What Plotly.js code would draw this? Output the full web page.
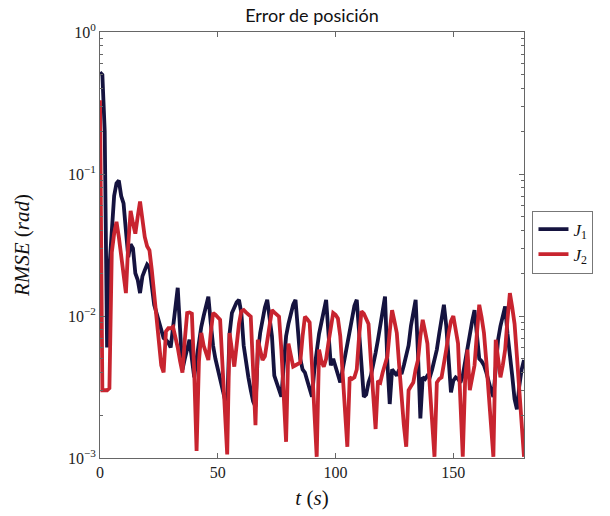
<!DOCTYPE html>
<html>
<head>
<meta charset="utf-8">
<script src="https://cdn.plot.ly/plotly-3.0.1.min.js"></script>
<style>html,body{margin:0;padding:0;background:#fff;}#chart{width:610px;height:516px;}</style>
</head>
<body>
<div id="chart"></div>
<script>
// time (s), one sample per second
const timeS = [];
for (let i = 0; i <= 180; i++) timeS.push(i);

const seriesNames = ["<i>J</i><sub>1</sub>", "<i>J</i><sub>2</sub>"];

const rmseJ1 = [
0.52,0.5,0.2,0.006,0.022,0.045,0.07,0.086,0.09,0.07,
0.062,0.04,0.026,0.032,0.03,0.02,0.018,0.0145,0.019,0.021,
0.023,0.022,0.016,0.012,0.0105,0.009,0.0078,0.007,0.0068,0.0065,
0.006,0.008,0.012,0.0158,0.008,0.0042,0.005,0.006,0.0068,0.005,
0.0037,0.005,0.0068,0.0084,0.01,0.012,0.0137,0.009,0.0062,0.005,
0.0042,0.0035,0.003,0.0026,0.0024,0.0075,0.0105,0.0115,0.0125,0.013,
0.0105,0.0062,0.0045,0.0037,0.003,0.0025,0.0023,0.0055,0.0076,0.0095,
0.0115,0.013,0.0095,0.0072,0.0038,0.0034,0.003,0.0027,0.0045,0.0072,
0.0088,0.0105,0.012,0.013,0.0075,0.005,0.0042,0.004,0.0035,0.003,
0.0027,0.0042,0.0058,0.0075,0.009,0.0112,0.013,0.0075,0.0045,0.005,
0.0044,0.0038,0.0034,0.0042,0.0052,0.0065,0.0082,0.0102,0.0118,0.013,
0.0072,0.0045,0.0027,0.0028,0.0034,0.0038,0.0045,0.0055,0.0068,0.0085,
0.011,0.0137,0.0047,0.0024,0.0042,0.004,0.0038,0.0042,0.0039,0.0045,
0.0052,0.0062,0.0085,0.011,0.013,0.0054,0.0019,0.0037,0.0036,0.0038,
0.0037,0.0042,0.005,0.0058,0.0075,0.0095,0.012,0.0085,0.0052,0.0029,
0.0035,0.0037,0.0036,0.0034,0.0038,0.0048,0.0058,0.0075,0.0092,0.011,
0.007,0.005,0.0048,0.0045,0.004,0.0034,0.003,0.0027,0.0045,0.0068,
0.0085,0.0102,0.0117,0.0075,0.0055,0.0038,0.0026,0.0022,0.0032,0.0042,
0.0049
];

const rmseJ2 = [
0.33,0.003,0.003,0.003,0.0031,0.028,0.038,0.046,0.036,0.026,
0.019,0.0145,0.032,0.055,0.045,0.038,0.05,0.064,0.048,0.036,
0.031,0.029,0.021,0.014,0.0105,0.0062,0.0045,0.004,0.0078,0.0082,
0.0082,0.0084,0.0072,0.006,0.0048,0.004,0.0068,0.0105,0.0106,0.0104,
0.004,0.00112,0.0048,0.0076,0.0062,0.0054,0.0049,0.0075,0.0105,0.0102,
0.0098,0.0094,0.0045,0.0021,0.00106,0.0076,0.0058,0.0044,0.0062,0.0088,
0.0108,0.011,0.0106,0.0102,0.0099,0.0042,0.0017,0.0068,0.0056,0.0049,
0.0052,0.0068,0.009,0.011,0.0106,0.0102,0.0099,0.0058,0.0028,0.0013,
0.0064,0.0052,0.0044,0.0045,0.0046,0.0047,0.0072,0.0099,0.0095,0.009,
0.0045,0.002,0.00102,0.0058,0.0048,0.0044,0.005,0.0065,0.0085,0.0105,
0.0102,0.0096,0.0072,0.004,0.0021,0.0012,0.0037,0.0036,0.0037,0.0042,
0.0072,0.0108,0.0104,0.0096,0.0088,0.0048,0.0027,0.0016,0.0035,0.0034,
0.004,0.0047,0.0052,0.0078,0.011,0.0092,0.0076,0.0045,0.0025,0.0017,
0.0012,0.003,0.0032,0.0034,0.0042,0.0049,0.0072,0.0094,0.0078,0.0064,
0.0032,0.0016,0.00102,0.0034,0.0036,0.0037,0.0045,0.0058,0.0075,0.0092,
0.01,0.0082,0.0064,0.0025,0.00102,0.0035,0.0058,0.003,0.0038,0.0045,
0.0075,0.012,0.0098,0.0076,0.0048,0.0028,0.0017,0.00102,0.0068,0.0052,
0.0037,0.0045,0.0058,0.0095,0.0145,0.0115,0.0088,0.0052,0.0028,0.0016,
0.00102
];

const xTickVals = [0, 50, 100, 150];
const yTickVals = [0.001, 0.01, 0.1, 1];
const yTickText = ["10<sup>\u22123</sup>", "10<sup>\u22122</sup>", "10<sup>\u22121</sup>", "10<sup>0</sup>"];

const minorVals = [];
for (let e = -3; e < 0; e++) for (let m = 2; m <= 9; m++) minorVals.push(m * Math.pow(10, e));

const serif = "Liberation Serif, DejaVu Serif, serif";
const frame = "#666";

const traces = [
  {x: timeS, y: rmseJ1, name: seriesNames[0], type: "scatter", mode: "lines",
   line: {color: "#15133f", width: 3.8}},
  {x: timeS, y: rmseJ2, name: seriesNames[1], type: "scatter", mode: "lines",
   line: {color: "#c8242f", width: 3.8}}
];

const layout = {
  width: 610, height: 516,
  margin: {l: 100, r: 86, t: 32, b: 58},
  paper_bgcolor: "#fff", plot_bgcolor: "#fff",
  title: {text: "Error de posición", font: {family: "Lato, Open Sans, sans-serif", size: 18, color: "#111"},
          x: 0.5, xref: "paper", y: 0.969, yref: "container", yanchor: "middle"},
  xaxis: {range: [0, 180], tickvals: xTickVals, ticks: "inside", ticklen: 5, tickcolor: frame,
          showgrid: false, zeroline: false, showline: true, linecolor: frame, linewidth: 1, mirror: "ticks",
          tickfont: {family: serif, size: 16, color: "#222"},
          title: {text: "<i>t</i> (<i>s</i>)", font: {family: serif, size: 21, color: "#111"}, standoff: 10}},
  yaxis: {type: "log", range: [-3, 0], tickvals: yTickVals, ticktext: yTickText,
          ticks: "inside", ticklen: 5, tickcolor: frame,
          minor: {tickvals: minorVals, ticks: "inside", ticklen: 3, tickcolor: frame, showgrid: false},
          showgrid: false, zeroline: false, showline: true, linecolor: frame, linewidth: 1, mirror: "ticks",
          tickfont: {family: serif, size: 16, color: "#222"},
          title: {text: "<i>RMSE</i> (<i>rad</i>)", font: {family: serif, size: 21, color: "#111"}, standoff: 32}},
  legend: {x: 1.02, xanchor: "left", y: 0.507, yanchor: "middle",
           bordercolor: "#777", borderwidth: 1, bgcolor: "#fff",
           font: {family: serif, size: 17, color: "#111"}, itemwidth: 30, tracegroupgap: 0},
  showlegend: true
};

Plotly.newPlot("chart", traces, layout, {displayModeBar: false, staticPlot: true});
</script>
</body>
</html>
